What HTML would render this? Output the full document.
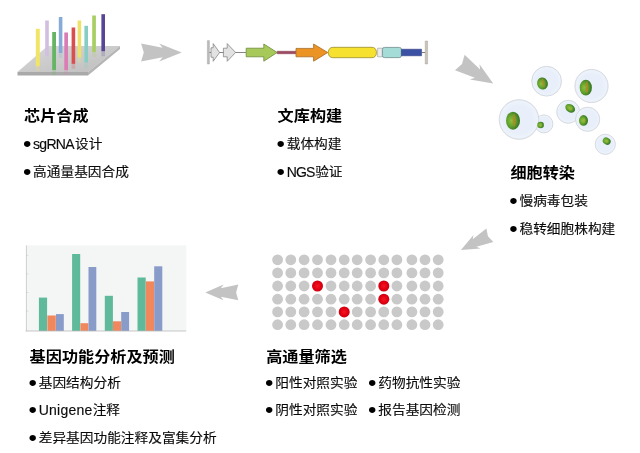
<!DOCTYPE html>
<html lang="zh-CN">
<head>
<meta charset="utf-8">
<title>CRISPR 文库筛选流程</title>
<style>
html,body{margin:0;padding:0;background:#fff;}
body{width:640px;height:453px;position:relative;overflow:hidden;font-family:"Liberation Sans","Noto Sans CJK SC",sans-serif;color:#1f1f1f;}
#art{position:absolute;left:0;top:0;width:640px;height:453px;display:block;}
.h{position:absolute;margin:0;transform:scaleY(0.935);transform-origin:0 50%;font-size:16.15px;line-height:24px;font-weight:700;color:#000;white-space:nowrap;}
.li{position:absolute;margin:0;transform:scaleY(0.925);transform-origin:0 50%;padding-left:9.1px;font-size:13.7px;line-height:24px;font-weight:400;color:#0a0a0a;-webkit-text-stroke:0.14px #0a0a0a;white-space:nowrap;}
.li b{font-weight:400;position:absolute;left:-1.1px;top:0.2px;font-size:24px;-webkit-text-stroke:0;line-height:24px;color:#000;}
.li i{font-style:normal;font-size:14px;line-height:1;display:inline-block;position:relative;top:0.5px;transform:scaleY(1.08);transform-origin:0 84.6%;}
</style>
</head>
<body>
<svg id="art" width="640" height="453" viewBox="0 0 640 453">
<defs>
  <radialGradient id="nuc" cx="38%" cy="50%" r="62%">
    <stop offset="0" stop-color="#8cc03e"/>
    <stop offset="0.5" stop-color="#63a22e"/>
    <stop offset="0.85" stop-color="#3f8027"/>
    <stop offset="1" stop-color="#357322"/>
  </radialGradient>
  <radialGradient id="cellg" cx="50%" cy="50%" r="50%">
    <stop offset="0" stop-color="#e8eefa"/>
    <stop offset="0.7" stop-color="#e8effa"/>
    <stop offset="0.92" stop-color="#edf3fb"/>
    <stop offset="1" stop-color="#e6eaf1"/>
  </radialGradient>
  <radialGradient id="redg" cx="50%" cy="50%" r="50%">
    <stop offset="0" stop-color="#f01822"/>
    <stop offset="0.6" stop-color="#e60012"/>
    <stop offset="1" stop-color="#c9000f"/>
  </radialGradient>
  <filter id="soft" x="-50%" y="-50%" width="200%" height="200%"><feGaussianBlur stdDeviation="0.5"/></filter>
  <linearGradient id="refl" x1="0" y1="0" x2="0" y2="1">
    <stop offset="0" stop-color="#fff" stop-opacity="0.45"/>
    <stop offset="1" stop-color="#fff" stop-opacity="0"/>
  </linearGradient>
  <linearGradient id="plat" x1="0" y1="0" x2="1" y2="1">
    <stop offset="0" stop-color="#d9d9d9"/>
    <stop offset="1" stop-color="#bdbdbd"/>
  </linearGradient>
</defs>

<!-- chip -->
<g id="chip">
  <polygon points="47.5,46 120,46 88,72 17.5,72" fill="url(#plat)"/>
  <polygon points="17.5,72 88,72 88,75.5 17.5,75.5" fill="#a9a9a9"/>
  <polygon points="88,72 120,46 120,49 88,75.5" fill="#b5b5b5"/>
  <rect x="45.2" y="20.5" width="3.6" height="35.5" fill="#d3bde0"/>
  <rect x="45.2" y="56.0" width="3.6" height="5" fill="#d3bde0" opacity="0.22"/>
  <rect x="58.8" y="17" width="3.6" height="36" fill="#86abd9"/>
  <rect x="58.8" y="53.0" width="3.6" height="5" fill="#86abd9" opacity="0.22"/>
  <rect x="77.6" y="20.5" width="3.6" height="37" fill="#ede267"/>
  <rect x="77.6" y="57.5" width="3.6" height="5" fill="#ede267" opacity="0.22"/>
  <rect x="92.2" y="15.5" width="3.7" height="36.5" fill="#a9cf63"/>
  <rect x="92.2" y="52.0" width="3.7" height="5" fill="#a9cf63" opacity="0.22"/>
  <rect x="101.4" y="14.2" width="3.6" height="37" fill="#5a4495"/>
  <rect x="101.4" y="51.2" width="3.6" height="5" fill="#5a4495" opacity="0.22"/>
  <rect x="84.4" y="25.8" width="3.6" height="36.7" fill="#86cdc4"/>
  <rect x="84.4" y="62.5" width="3.6" height="5" fill="#86cdc4" opacity="0.22"/>
  <rect x="71.6" y="27.5" width="3.6" height="36.3" fill="#db4e4e"/>
  <rect x="71.6" y="63.8" width="3.6" height="5" fill="#db4e4e" opacity="0.22"/>
  <rect x="35.8" y="28.8" width="4" height="37.5" fill="#f1e567"/>
  <rect x="35.8" y="66.3" width="4.0" height="5" fill="#f1e567" opacity="0.22"/>
  <rect x="52.2" y="32" width="3.8" height="38" fill="#65b564"/>
  <rect x="52.2" y="70.0" width="3.8" height="5" fill="#65b564" opacity="0.22"/>
  <rect x="64.3" y="32.5" width="3.7" height="37.5" fill="#da7db4"/>
  <rect x="64.3" y="70.0" width="3.7" height="5" fill="#da7db4" opacity="0.22"/>
</g>

<!-- arrows -->
<path d="M-20.3,-8.9 L1.2,-4.8 L-2.2,-8.9 L20.3,0 L-2.2,8.9 L1.2,4.8 L-20.3,8.9 L-17.6,0 Z" fill="#c3c3c3" transform="translate(161.4,52.5)"/>
<path d="M-20.3,-8.9 L1.2,-4.8 L-2.2,-8.9 L20.3,0 L-2.2,8.9 L1.2,4.8 L-20.3,8.9 L-17.6,0 Z" fill="#c3c3c3" transform="translate(476.5,73) rotate(32) scale(0.97,1.02)"/>
<path d="M-20.3,-8.9 L1.2,-4.8 L-2.2,-8.9 L20.3,0 L-2.2,8.9 L1.2,4.8 L-20.3,8.9 L-17.6,0 Z" fill="#c3c3c3" transform="translate(475.4,242.6) rotate(152.9) scale(0.8,0.86)"/>
<path d="M-20.3,-8.9 L1.2,-4.8 L-2.2,-8.9 L20.3,0 L-2.2,8.9 L1.2,4.8 L-20.3,8.9 L-17.6,0 Z" fill="#c3c3c3" transform="translate(221.8,292.4) rotate(180) scale(0.813,0.882)"/>

<!-- vector map -->
<g id="vec" stroke-linejoin="round">
  <line x1="209" y1="52.5" x2="246" y2="52.5" stroke="#666" stroke-width="0.8"/>
  <rect x="207.4" y="40.6" width="2" height="23.4" fill="#bdbdbd" stroke="#9a9a9a" stroke-width="0.4"/>
  <polygon points="211,47.8 213.2,47.8 213.2,43.6 219.6,52.5 213.2,61.3 213.2,57.2 211,57.2" fill="#e2e2e2" stroke="#7a7a7a" stroke-width="0.7"/>
  <polygon points="223.4,48.2 227.2,48.2 227.2,43.6 235.6,52.5 227.2,61.3 227.2,56.8 223.4,56.8" fill="#e2e2e2" stroke="#7a7a7a" stroke-width="0.7"/>
  <polygon points="246.2,48.2 263.8,48.2 263.8,44 277.2,52.5 263.8,61.2 263.8,56.8 246.2,56.8" fill="#a6c95a" stroke="#6f8a3a" stroke-width="0.8"/>
  <rect x="277.2" y="51.2" width="19" height="2.6" fill="#a04a62" stroke="#7a3a4a" stroke-width="0.4"/>
  <polygon points="296,48.4 313.6,48.4 313.6,44 327.8,52.5 313.6,61.2 313.6,56.8 296,56.8" fill="#ec9423" stroke="#a86a24" stroke-width="0.8"/>
  <rect x="328.4" y="47.3" width="48" height="10.4" rx="4.4" ry="4.4" fill="#f5e12e" stroke="#9a8c2c" stroke-width="0.8"/>
  <rect x="377.6" y="48.2" width="4.8" height="8.6" fill="#ececec" stroke="#9a9a9a" stroke-width="0.6"/>
  <rect x="382.4" y="47.4" width="19" height="10.2" rx="2" ry="2" fill="#a5dcd8" stroke="#6f8c8c" stroke-width="0.8"/>
  <rect x="401.4" y="49.2" width="20.2" height="6.6" fill="#3b51a3" stroke="#2c3c7c" stroke-width="0.5"/>
  <line x1="421.6" y1="52.5" x2="425.4" y2="52.5" stroke="#555" stroke-width="0.8"/>
  <rect x="425.2" y="41" width="2.4" height="23" fill="#c9c4b4" stroke="#9a9a9a" stroke-width="0.4"/>
</g>

<!-- cells -->
<g id="cells">
  <circle cx="543.9" cy="123.9" r="9.0" fill="url(#cellg)" stroke="#d4d7df" stroke-width="0.9"/>
  <circle cx="519.0" cy="119.5" r="19.8" fill="url(#cellg)" stroke="#d4d7df" stroke-width="0.9"/>
  <circle cx="546.6" cy="81.2" r="14.9" fill="url(#cellg)" stroke="#d4d7df" stroke-width="0.9"/>
  <circle cx="591.5" cy="86.0" r="16.6" fill="url(#cellg)" stroke="#d4d7df" stroke-width="0.9"/>
  <circle cx="568.2" cy="111.8" r="11.5" fill="url(#cellg)" stroke="#d4d7df" stroke-width="0.9"/>
  <circle cx="587.6" cy="119.3" r="12.1" fill="url(#cellg)" stroke="#d4d7df" stroke-width="0.9"/>
  <circle cx="605.3" cy="144.3" r="10.1" fill="url(#cellg)" stroke="#d4d7df" stroke-width="0.9"/>
  <g>
    <ellipse cx="540.6" cy="125.0" rx="3.3" ry="3.3" fill="url(#nuc)"/>
    <ellipse cx="540.93" cy="125.00" rx="0.99" ry="1.65" fill="#a9b83a" opacity="0.6" filter="url(#soft)"/>
  </g>
  <g>
    <ellipse cx="513.0" cy="120.7" rx="7.0" ry="9.0" fill="url(#nuc)"/>
    <ellipse cx="514.26" cy="120.25" rx="1.40" ry="6.48" fill="#bd8424" opacity="0.7" filter="url(#soft)"/>
  </g>
  <g transform="rotate(-12 542.5 83.5)">
    <ellipse cx="542.5" cy="83.5" rx="5.4" ry="6.1" fill="url(#nuc)"/>
    <ellipse cx="543.47" cy="83.19" rx="1.08" ry="4.39" fill="#bd8424" opacity="0.7" filter="url(#soft)"/>
  </g>
  <g>
    <ellipse cx="585.8" cy="87.7" rx="6.1" ry="7.9" fill="url(#nuc)"/>
    <ellipse cx="586.90" cy="87.31" rx="1.22" ry="5.69" fill="#bd8424" opacity="0.7" filter="url(#soft)"/>
  </g>
  <g transform="rotate(35 570.2 108.3)">
    <ellipse cx="570.2" cy="108.3" rx="5.3" ry="3.9" fill="url(#nuc)"/>
    <ellipse cx="570.73" cy="108.30" rx="1.59" ry="1.95" fill="#a9b83a" opacity="0.6" filter="url(#soft)"/>
  </g>
  <g>
    <ellipse cx="583.5" cy="120.4" rx="4.5" ry="5.3" fill="url(#nuc)"/>
    <ellipse cx="583.95" cy="120.40" rx="1.35" ry="2.65" fill="#a9b83a" opacity="0.6" filter="url(#soft)"/>
  </g>
  <g transform="rotate(30 606.7 141.1)">
    <ellipse cx="606.7" cy="141.1" rx="4.1" ry="3.4" fill="url(#nuc)"/>
    <ellipse cx="607.11" cy="141.10" rx="1.23" ry="1.70" fill="#a9b83a" opacity="0.6" filter="url(#soft)"/>
  </g>
</g>

<!-- plate -->
<g id="plate" fill="#c9c9c9">
  <circle cx="277.6" cy="259.8" r="5.4"/>
  <circle cx="290.8" cy="259.8" r="5.4"/>
  <circle cx="304.1" cy="259.8" r="5.4"/>
  <circle cx="317.5" cy="259.8" r="5.4"/>
  <circle cx="331" cy="259.8" r="5.4"/>
  <circle cx="344.2" cy="259.8" r="5.4"/>
  <circle cx="357.2" cy="259.8" r="5.4"/>
  <circle cx="370.6" cy="259.8" r="5.4"/>
  <circle cx="383.8" cy="259.8" r="5.4"/>
  <circle cx="396.9" cy="259.8" r="5.4"/>
  <circle cx="411.9" cy="259.8" r="5.4"/>
  <circle cx="425" cy="259.8" r="5.4"/>
  <circle cx="438.2" cy="259.8" r="5.4"/>
  <circle cx="277.6" cy="272.9" r="5.4"/>
  <circle cx="290.8" cy="272.9" r="5.4"/>
  <circle cx="304.1" cy="272.9" r="5.4"/>
  <circle cx="317.5" cy="272.9" r="5.4"/>
  <circle cx="331" cy="272.9" r="5.4"/>
  <circle cx="344.2" cy="272.9" r="5.4"/>
  <circle cx="357.2" cy="272.9" r="5.4"/>
  <circle cx="370.6" cy="272.9" r="5.4"/>
  <circle cx="383.8" cy="272.9" r="5.4"/>
  <circle cx="396.9" cy="272.9" r="5.4"/>
  <circle cx="411.9" cy="272.9" r="5.4"/>
  <circle cx="425" cy="272.9" r="5.4"/>
  <circle cx="438.2" cy="272.9" r="5.4"/>
  <circle cx="277.6" cy="286" r="5.4"/>
  <circle cx="290.8" cy="286" r="5.4"/>
  <circle cx="304.1" cy="286" r="5.4"/>
  <circle cx="317.5" cy="286" r="5.5" fill="url(#redg)"/>
  <circle cx="331" cy="286" r="5.4"/>
  <circle cx="344.2" cy="286" r="5.4"/>
  <circle cx="357.2" cy="286" r="5.4"/>
  <circle cx="370.6" cy="286" r="5.4"/>
  <circle cx="383.8" cy="286" r="5.5" fill="url(#redg)"/>
  <circle cx="396.9" cy="286" r="5.4"/>
  <circle cx="411.9" cy="286" r="5.4"/>
  <circle cx="425" cy="286" r="5.4"/>
  <circle cx="438.2" cy="286" r="5.4"/>
  <circle cx="277.6" cy="299.2" r="5.4"/>
  <circle cx="290.8" cy="299.2" r="5.4"/>
  <circle cx="304.1" cy="299.2" r="5.4"/>
  <circle cx="317.5" cy="299.2" r="5.4"/>
  <circle cx="331" cy="299.2" r="5.4"/>
  <circle cx="344.2" cy="299.2" r="5.4"/>
  <circle cx="357.2" cy="299.2" r="5.4"/>
  <circle cx="370.6" cy="299.2" r="5.4"/>
  <circle cx="383.8" cy="299.2" r="5.5" fill="url(#redg)"/>
  <circle cx="396.9" cy="299.2" r="5.4"/>
  <circle cx="411.9" cy="299.2" r="5.4"/>
  <circle cx="425" cy="299.2" r="5.4"/>
  <circle cx="438.2" cy="299.2" r="5.4"/>
  <circle cx="277.6" cy="311.9" r="5.4"/>
  <circle cx="290.8" cy="311.9" r="5.4"/>
  <circle cx="304.1" cy="311.9" r="5.4"/>
  <circle cx="317.5" cy="311.9" r="5.4"/>
  <circle cx="331" cy="311.9" r="5.4"/>
  <circle cx="344.2" cy="311.9" r="5.5" fill="url(#redg)"/>
  <circle cx="357.2" cy="311.9" r="5.4"/>
  <circle cx="370.6" cy="311.9" r="5.4"/>
  <circle cx="383.8" cy="311.9" r="5.4"/>
  <circle cx="396.9" cy="311.9" r="5.4"/>
  <circle cx="411.9" cy="311.9" r="5.4"/>
  <circle cx="425" cy="311.9" r="5.4"/>
  <circle cx="438.2" cy="311.9" r="5.4"/>
  <circle cx="277.6" cy="324.7" r="5.4"/>
  <circle cx="290.8" cy="324.7" r="5.4"/>
  <circle cx="304.1" cy="324.7" r="5.4"/>
  <circle cx="317.5" cy="324.7" r="5.4"/>
  <circle cx="331" cy="324.7" r="5.4"/>
  <circle cx="344.2" cy="324.7" r="5.4"/>
  <circle cx="357.2" cy="324.7" r="5.4"/>
  <circle cx="370.6" cy="324.7" r="5.4"/>
  <circle cx="383.8" cy="324.7" r="5.4"/>
  <circle cx="396.9" cy="324.7" r="5.4"/>
  <circle cx="411.9" cy="324.7" r="5.4"/>
  <circle cx="425" cy="324.7" r="5.4"/>
  <circle cx="438.2" cy="324.7" r="5.4"/>
</g>

<!-- chart -->
<g id="chart">
  <rect x="26.3" y="245.4" width="160" height="85.6" fill="#f4f5f5"/>
  <g stroke="#cfcfcf" stroke-width="0.6">
    <line x1="26" y1="255.4" x2="28.4" y2="255.4"/>
    <line x1="26" y1="274" x2="28.4" y2="274"/>
    <line x1="26" y1="292.5" x2="28.4" y2="292.5"/>
    <line x1="26" y1="311.1" x2="28.4" y2="311.1"/>
  </g>
  <g fill="#5fb99b">
    <rect x="38.9" y="297.6" width="8.2" height="33.4"/>
    <rect x="72.1" y="254" width="8.1" height="77"/>
    <rect x="104.8" y="295.8" width="8.1" height="35.2"/>
    <rect x="137.5" y="277.5" width="8.2" height="53.5"/>
  </g>
  <g fill="#f0875d">
    <rect x="47.4" y="315.5" width="8.4" height="15.5"/>
    <rect x="80.4" y="323.2" width="8" height="7.8"/>
    <rect x="113" y="321.3" width="8.1" height="9.7"/>
    <rect x="145.8" y="281.4" width="8.2" height="49.6"/>
  </g>
  <g fill="#889bc9">
    <rect x="56" y="314.1" width="7.8" height="16.9"/>
    <rect x="88.5" y="267" width="7.8" height="64"/>
    <rect x="121.2" y="312" width="7.9" height="19"/>
    <rect x="154.2" y="266.3" width="8.1" height="64.7"/>
  </g>
  <line x1="26.4" y1="245.4" x2="26.4" y2="331.2" stroke="#bdbdbd" stroke-width="0.7"/>
  <line x1="25.6" y1="331" x2="186.2" y2="331" stroke="#b9b9b9" stroke-width="0.8"/>
</g>
</svg>

<div class="h" style="left:24px;top:103px">芯片合成</div>
<div class="li" style="left:24px;top:131.8px"><b>•</b><i style="letter-spacing:-0.74px;margin-right:1.2px">sgRNA</i>设计</div>
<div class="li" style="left:24px;top:159.8px"><b>•</b>高通量基因合成</div>

<div class="h" style="left:277.6px;top:103px">文库构建</div>
<div class="li" style="left:277.6px;top:131.8px"><b>•</b>载体构建</div>
<div class="li" style="left:277.6px;top:159.8px"><b>•</b><i style="letter-spacing:-0.86px;margin-right:0.7px">NGS</i>验证</div>

<div class="h" style="left:510.4px;top:160px">细胞转染</div>
<div class="li" style="left:510.4px;top:189.3px"><b>•</b>慢病毒包装</div>
<div class="li" style="left:510.4px;top:216.8px"><b>•</b>稳转细胞株构建</div>

<div class="h" style="left:29.6px;top:344px">基因功能分析及预测</div>
<div class="li" style="left:29.6px;top:370.8px"><b>•</b>基因结构分析</div>
<div class="li" style="left:29.6px;top:398.3px"><b>•</b><i style="letter-spacing:0.26px">Unigene</i>注释</div>
<div class="li" style="left:29.6px;top:425.8px"><b>•</b>差异基因功能注释及富集分析</div>

<div class="h" style="left:266.2px;top:344px">高通量筛选</div>
<div class="li" style="left:266.2px;top:370.8px"><b>•</b>阳性对照实验</div>
<div class="li" style="left:266.2px;top:397.8px"><b>•</b>阴性对照实验</div>
<div class="li" style="left:369.2px;top:370.8px"><b>•</b>药物抗性实验</div>
<div class="li" style="left:369.2px;top:397.8px"><b>•</b>报告基因检测</div>
</body>
</html>
